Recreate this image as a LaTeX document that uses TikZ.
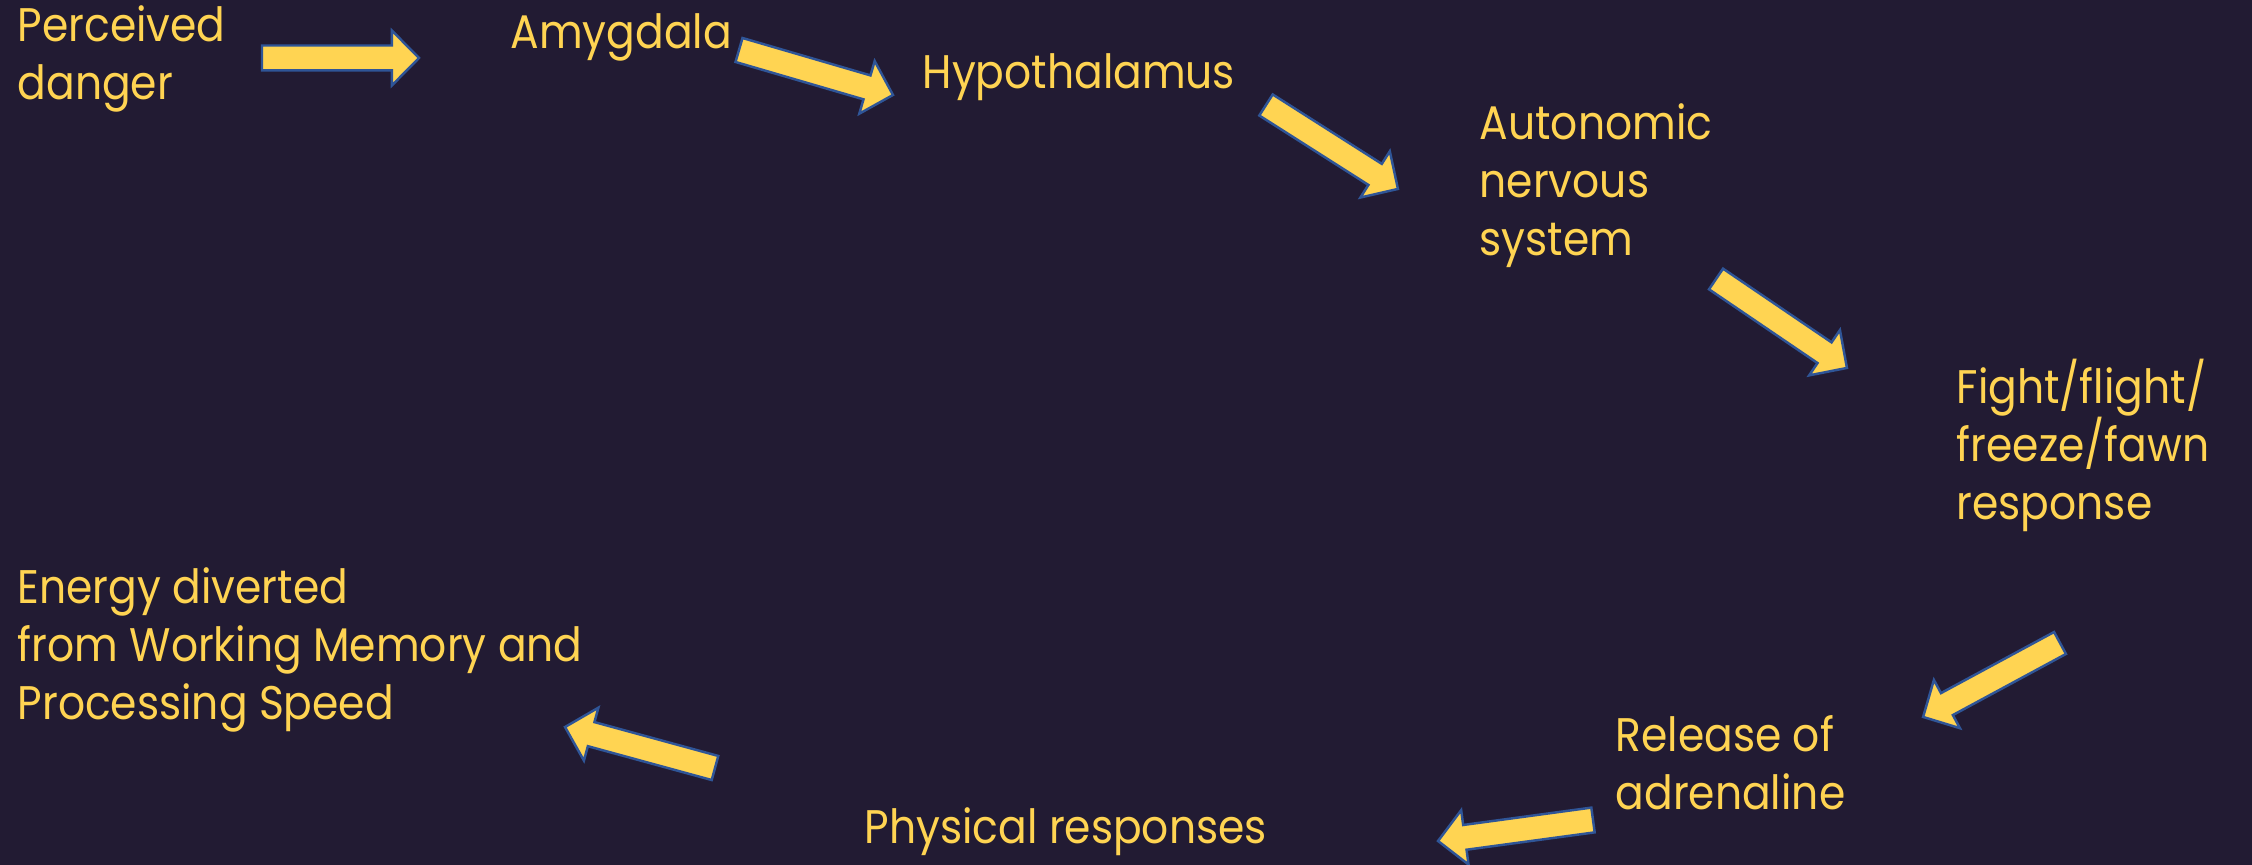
\documentclass[tikz,border=0pt]{standalone}
\usepackage{fontspec}
\setmainfont[FakeStretch=0.9]{Poppins}
\usetikzlibrary{calc}
\definecolor{bg}{HTML}{221B33}
\definecolor{yel}{HTML}{FFD452}
\definecolor{edgeblue}{HTML}{2F5597}
\tikzset{
  lbl/.style={text=yel, font=\fontsize{13.4}{16.5}\selectfont, align=left, inner sep=0pt, anchor=base west},
  barrow/.style={fill=yel, draw=edgeblue, line width=0.7pt, line join=miter},
}
\newcommand\blockarr[2]{%
  \path let \p1=(#1), \p2=(#2), \n1={atan2(\y2-\y1,\x2-\x1)}, \n2={veclen(\x2-\x1,\y2-\y1)} in
    \pgfextra{\xdef\arrAng{\n1}\xdef\arrLen{\n2}};
  \begin{scope}[shift={(#1)}, rotate=\arrAng]
    \filldraw[barrow] (0pt,-3.55pt) -- (\arrLen-7.7pt,-3.55pt) -- (\arrLen-7.7pt,-7.8pt)
      -- (\arrLen,0pt) -- (\arrLen-7.7pt,7.8pt) -- (\arrLen-7.7pt,3.55pt) -- (0pt,3.55pt) -- cycle;
  \end{scope}}
\begin{document}
\begin{tikzpicture}[x=0.01cm, y=-0.01cm]
\fill[bg] (0,0) rectangle (2252,865);
\useasboundingbox (0,0) rectangle (2252,865);

% base anchor of a multi-line node = baseline of its last line
\node[lbl] (perc) at (17,100) {Perceived\\danger};
\node[lbl] (amyg) at (510,49) {Amygdala};
\node[lbl] (hypo) at (922,89) {Hypothalamus};
\node[lbl] (ans) at (1479,256) {Autonomic\\nervous\\system};
\node[lbl] (ffff) at (1956,520) {Fight/flight/\\freeze/fawn\\response};
\node[lbl] (rel) at (1615,810) {Release of\\adrenaline};
\node[lbl] (phys) at (864,844) {Physical responses};
\node[lbl] (energy) at (17,720) {Energy diverted\\from Working Memory and\\Processing Speed};

\coordinate (a1s) at (262,58);   \coordinate (a1e) at (419,58);
\coordinate (a2s) at (739,50);   \coordinate (a2e) at (893,95);
\coordinate (a3s) at (1266,105); \coordinate (a3e) at (1398,189);
\coordinate (a4s) at (1716,279); \coordinate (a4e) at (1847,368);
\coordinate (a5s) at (2060,643); \coordinate (a5e) at (1923,717);
\coordinate (a6s) at (1593,820); \coordinate (a6e) at (1438,841);
\coordinate (a7s) at (715,768);  \coordinate (a7e) at (565,727);

\blockarr{a1s}{a1e}
\blockarr{a2s}{a2e}
\blockarr{a3s}{a3e}
\blockarr{a4s}{a4e}
\blockarr{a5s}{a5e}
\blockarr{a6s}{a6e}
\blockarr{a7s}{a7e}
\end{tikzpicture}
\end{document}
